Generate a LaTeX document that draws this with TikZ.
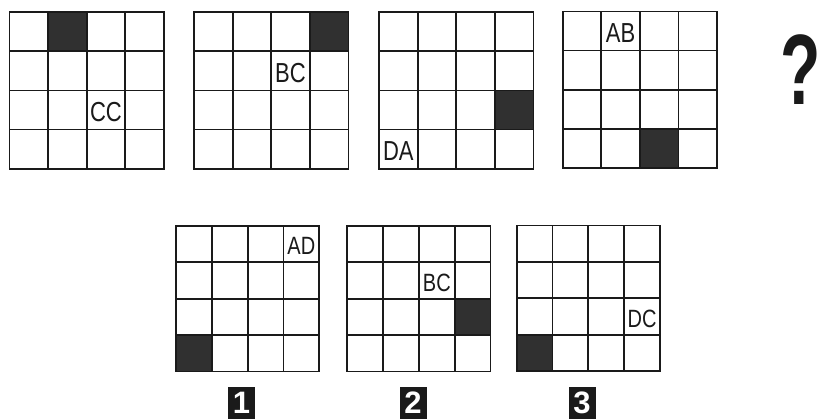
\documentclass[tikz,border=0pt]{standalone}
\usepackage{fontspec}
\setmainfont{Liberation Sans}
\newfontfamily\cellfont[FakeStretch=0.8]{Liberation Sans}
\usetikzlibrary{positioning}
\definecolor{ink}{HTML}{1A1A1A}
\definecolor{shade}{HTML}{303030}

\begin{document}
\begin{tikzpicture}[x=1pt,y=-1pt,
  gridline/.style={draw=ink, line width=1.8pt, line cap=rect},
  darkcell/.style={fill=shade},
  celltext/.style={inner sep=0pt, text=ink},
  numbox/.style={fill=ink, text=white, inner sep=0pt, minimum width=27pt, minimum height=32pt,
    font=\bfseries\fontsize{31}{31}\selectfont}]
\useasboundingbox (0,0) rectangle (822,419);
% grids: left/top/cell w/cell h/dark col/dark row/text/text col/text row/font size/name
\foreach \gx/\gy/\cw/\ch/\dc/\dr/\tx/\tc/\tr/\fs/\nm in {
    9.5/12.3/38.6/39.1/1/0/CC/2/2/27.5/q1,
    194/12.3/38.6/39.1/3/0/BC/2/1/27.5/q2,
    379/12.3/38.6/39.1/3/2/DA/0/3/27.5/q3,
    562.7/11.5/38.6/39.1/2/3/AB/1/0/27.5/q4,
    176/226/35.8/36.4/0/3/AD/3/0/25/a1,
    347.3/226/35.8/36.4/3/2/BC/2/1/25/a2,
    516.7/225.5/35.8/36.4/0/3/DC/3/2/25/a3} {
  \fill[darkcell] (\gx+\dc*\cw,\gy+\dr*\ch) rectangle ++(\cw,\ch);
  \foreach \i in {0,...,4} {
    \draw[gridline] (\gx+\i*\cw,\gy) -- ++(0,4*\ch);
    \draw[gridline] (\gx,\gy+\i*\ch) -- ++(4*\cw,0);
  }
  \node[celltext, font=\cellfont\fontsize{\fs}{\fs}\selectfont] (\nm)
    at (\gx+\tc*\cw+0.5*\cw,\gy+\tr*\ch+0.5*\ch+2) {\tx};
}
% the missing figure
\node[inner sep=0pt, text=ink] (ask) at (801,70)
  {\scalebox{0.66}[1]{\bfseries\fontsize{100}{100}\selectfont ?}};
% answer numbers
\node[numbox] (n1) at (241.5,403) {1};
\node[numbox] (n2) at (413,403) {2};
\node[numbox] (n3) at (582,403) {3};
\end{tikzpicture}
\end{document}
